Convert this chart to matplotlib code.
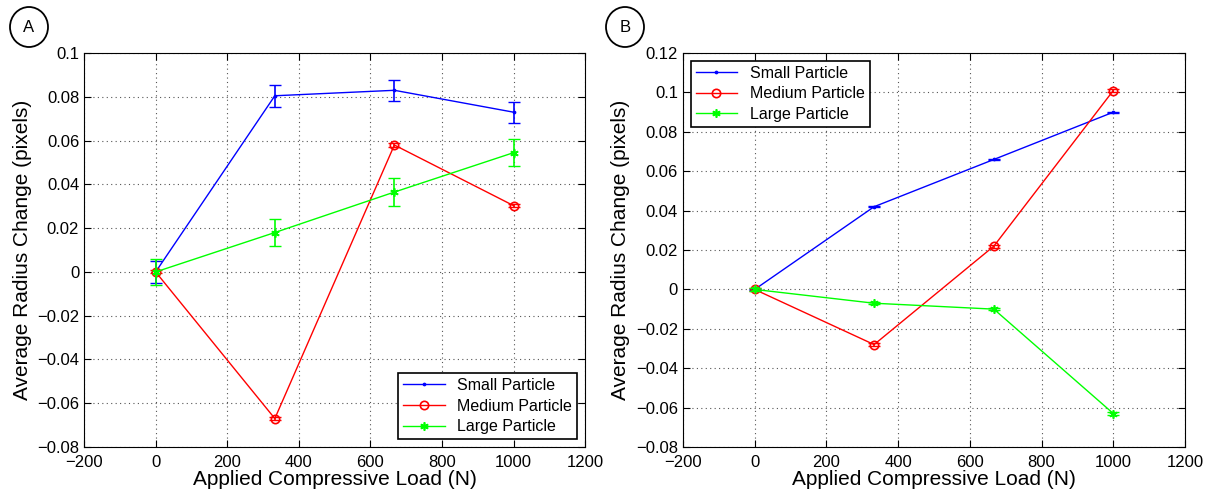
import numpy as np
import matplotlib
matplotlib.use("Agg")
import matplotlib.pyplot as plt
from matplotlib.patches import Ellipse

plt.rcParams["font.family"] = ["Liberation Sans", "DejaVu Sans"]

# applied loads (N)
loads = [0, 333, 667, 1000]

# panel A: mean radius change and error
a_small = [0, 0.0805, 0.083, 0.073]
a_small_err = [0.005, 0.005, 0.0048, 0.0048]
a_medium = [0, -0.067, 0.058, 0.0303]
a_medium_err = [0.0007, 0.0007, 0.0007, 0.0007]
a_large = [0, 0.018, 0.0365, 0.0545]
a_large_err = [0.006, 0.0063, 0.0063, 0.0063]

# panel B
b_small = [0, 0.042, 0.066, 0.090]
b_small_err = [0.0003, 0.0003, 0.0003, 0.0003]
b_medium = [0, -0.028, 0.022, 0.101]
b_medium_err = [0.0008, 0.0008, 0.0008, 0.0008]
b_large = [0, -0.007, -0.010, -0.063]
b_large_err = [0.0006, 0.0006, 0.0006, 0.0006]

labels = ["Small Particle", "Medium Particle", "Large Particle"]
colors = ["blue", "red", "#00ff00"]
markers = [".", "o", (6, 2, 0)]  # matlab style asterisk for the large one
msizes = [3, 6, 6]

fig = plt.figure(figsize=(12.06, 4.93), dpi=100)
ax_a = fig.add_axes([0.0697, 0.0933, 0.4155, 0.799])
ax_b = fig.add_axes([0.5663, 0.0933, 0.4163, 0.799])


def draw_panel(ax, series, errs, ylim, yticks, legend_loc):
    handles = []
    for ys, es, c, m, ms, lab in zip(series, errs, colors, markers, msizes, labels):
        ax.errorbar(loads, ys, yerr=es, color=c, fmt="none", capsize=4, elinewidth=1.2)
        h, = ax.plot(loads, ys, color=c, marker=m, markersize=ms,
                     mfc="none" if m == "o" else c, mew=1.2, lw=1, label=lab)
        handles.append(h)
    ax.set_xlim(-200, 1200)
    ax.set_xticks(np.arange(-200, 1201, 200))
    ax.set_ylim(*ylim)
    ax.set_yticks(yticks)
    ax.set_yticklabels([("%g" % t).replace("-", "\u2212") for t in yticks])
    ax.grid(True, linestyle=(0, (1, 3)), color="#555555", lw=0.8)
    ax.tick_params(direction="in", top=True, right=True, labelsize=12, length=5)
    ax.tick_params(axis="x", pad=6)
    ax.set_xlabel("Applied Compressive Load (N)", fontsize=15, labelpad=0)
    ax.set_ylabel("Average Radius Change (pixels)", fontsize=15, labelpad=4)
    leg = ax.legend(handles=handles, loc=legend_loc, fontsize=11.5, fancybox=False,
                    framealpha=1, edgecolor="black", handlelength=2.6, borderpad=0.3,
                    labelspacing=0.35, borderaxespad=0.5)
    leg.get_frame().set_linewidth(1.2)


draw_panel(ax_a, [a_small, a_medium, a_large], [a_small_err, a_medium_err, a_large_err],
           (-0.08, 0.1), np.round(np.arange(-0.08, 0.1001, 0.02), 2), "lower right")
draw_panel(ax_b, [b_small, b_medium, b_large], [b_small_err, b_medium_err, b_large_err],
           (-0.08, 0.12), np.round(np.arange(-0.08, 0.1201, 0.02), 2), "upper left")

# circled panel letters
for cx, letter in [(29, "A"), (625, "B")]:
    e = Ellipse((cx / 1206, 1 - 27 / 493), 38 / 1206, 40 / 493, transform=fig.transFigure,
                fill=False, lw=1.3, color="black")
    fig.patches.append(e)
    fig.text(cx / 1206, 1 - 27 / 493, letter, ha="center", va="center", fontsize=12)

fig.savefig("out.png", dpi=100)
